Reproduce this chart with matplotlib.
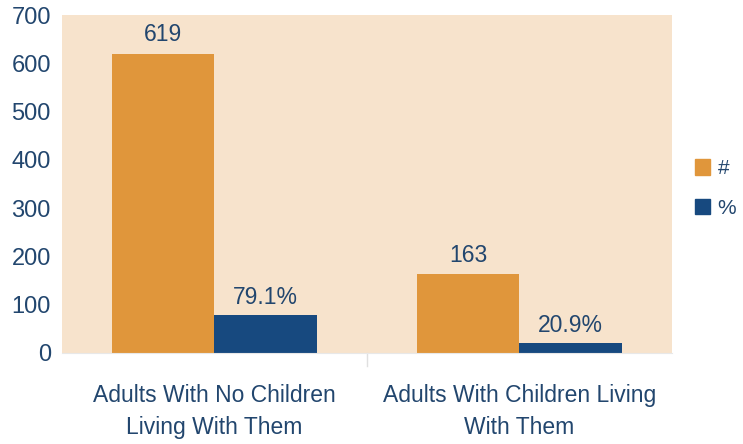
import numpy as np
import matplotlib.pyplot as plt
from matplotlib.patches import Patch

categories = ['Adults With No Children\nLiving With Them', 'Adults With Children Living\nWith Them']
counts = [619, 163]
percents = [79.1, 20.9]
count_labels = ['619', '163']
percent_labels = ['79.1%', '20.9%']
series_names = ['#', '%']

orange = '#E0963B'
navy = '#17497F'
bg = '#F7E3CC'
txt = '#22466E'

plt.rcParams['font.family'] = ['Liberation Sans Narrow', 'Liberation Sans', 'DejaVu Sans']

fig = plt.figure(figsize=(7.43, 4.44), dpi=100)
ax = fig.add_axes((0.0834, 0.205, 0.821, 0.761))
ax.set_facecolor(bg)

x = np.arange(len(categories))
w = 0.335
b1 = ax.bar(x - w/2, counts, w, color=orange, label=series_names[0])
b2 = ax.bar(x + w/2, percents, w, color=navy, label=series_names[1])

for rect, lab in zip(b1, count_labels):
    ax.text(rect.get_x() + rect.get_width()/2, rect.get_height() + 16, lab,
            ha='center', va='bottom', fontsize=16.5, color=txt)
for rect, lab in zip(b2, percent_labels):
    ax.text(rect.get_x() + rect.get_width()/2, rect.get_height() + 12, lab,
            ha='center', va='bottom', fontsize=16.5, color=txt)

ax.set_xlim(-0.5, 1.5)
ax.set_ylim(0, 700)
ax.set_yticks(range(0, 701, 100))
ax.set_xticks(x)
ax.set_xticklabels(categories, fontsize=16.5, color=txt, linespacing=1.55)
ax.tick_params(axis='y', labelsize=17, colors=txt, length=0, pad=8)
ax.tick_params(axis='x', length=0, pad=22)
for s in ['top', 'right', 'left']:
    ax.spines[s].set_visible(False)
ax.spines['bottom'].set_color('#E8E8E8')
ax.axvline(0.5, ymin=-0.04, ymax=0, color='#E0E0E0', lw=1, clip_on=False)

handles = [Patch(color=orange), Patch(color=navy)]
fig.legend(handles, series_names, loc='center left', bbox_to_anchor=(0.935, 0.575),
           frameon=False, fontsize=15, labelcolor=txt, handlelength=0.75,
           handleheight=0.75, handletextpad=0.35, labelspacing=1.0,
           borderaxespad=0, borderpad=0)

fig.savefig('out.png', dpi=100)
